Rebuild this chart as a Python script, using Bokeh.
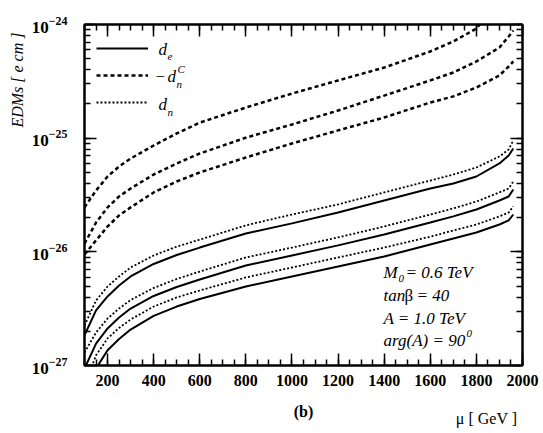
import math
from bokeh.plotting import figure
from bokeh.models import (Range1d, LinearAxis, LogAxis, LogTicker, SingleIntervalTicker,
                          FixedTicker, Label, Legend, LegendItem, CustomJSTickFormatter, Title)
from bokeh.embed import file_html
from bokeh.resources import INLINE

# ---------------- data ----------------
mu = [100, 150, 200, 250, 300, 400, 500, 600, 800, 1000, 1200, 1400, 1600, 1700, 1800, 1900, 1940, 1960]
mu_top = [100, 150, 200, 250, 300, 400, 500, 600, 800, 1000, 1200, 1400, 1600, 1700, 1800, 1815]

# -d_n^C (dashed)
dnc_1 = [2.46e-26, 3.46e-26, 4.60e-26, 5.63e-26, 6.62e-26, 8.62e-26, 1.10e-25, 1.37e-25,
         1.86e-25, 2.47e-25, 3.22e-25, 4.18e-25, 5.79e-25, 7.09e-25, 9.22e-25, 1.0e-24]
dnc_2 = [1.18e-26, 1.81e-26, 2.46e-26, 3.07e-26, 3.61e-26, 4.79e-26, 5.99e-26, 7.33e-26,
         1.01e-25, 1.32e-25, 1.75e-25, 2.37e-25, 3.22e-25, 3.78e-25, 4.73e-25, 6.28e-25,
         7.84e-25, 8.86e-25]
dnc_3 = [9.48e-27, 1.26e-26, 1.67e-26, 2.09e-26, 2.46e-26, 3.33e-26, 4.16e-26, 4.99e-26,
         6.76e-26, 8.98e-26, 1.17e-25, 1.52e-25, 2.06e-25, 2.33e-25, 2.79e-25, 3.56e-25,
         4.27e-25, 4.73e-25]
# d_e (solid)
de_1 = [1.84e-27, 3.05e-27, 4.05e-27, 5.06e-27, 6.07e-27, 7.82e-27, 9.38e-27, 1.09e-26,
        1.45e-26, 1.78e-26, 2.22e-26, 2.83e-26, 3.61e-26, 3.99e-26, 4.60e-26, 5.99e-26,
        7.04e-26, 8.11e-26]
de_2 = [9.41e-28, 1.56e-27, 2.12e-27, 2.64e-27, 3.17e-27, 4.09e-27, 4.91e-27, 5.71e-27,
        7.58e-27, 9.29e-27, 1.14e-26, 1.42e-26, 1.81e-26, 2.05e-26, 2.36e-26, 2.83e-26,
        3.07e-26, 3.54e-26]
de_3 = [4.92e-28, 9.41e-28, 1.36e-27, 1.71e-27, 2.07e-27, 2.73e-27, 3.30e-27, 3.85e-27,
        4.96e-27, 6.07e-27, 7.43e-27, 9.10e-27, 1.16e-26, 1.31e-26, 1.48e-26, 1.74e-26,
        1.89e-26, 2.13e-26]
# d_n (dotted)
dn_1 = [2.25e-27, 3.73e-27, 4.96e-27, 6.07e-27, 7.28e-27, 9.29e-27, 1.11e-26, 1.28e-26,
        1.71e-26, 2.13e-26, 2.61e-26, 3.33e-26, 4.24e-26, 4.79e-26, 5.52e-26, 6.90e-26,
        7.95e-26, 9.54e-26]
dn_2 = [1.30e-27, 1.95e-27, 2.59e-27, 3.17e-27, 3.77e-27, 4.81e-27, 5.77e-27, 6.71e-27,
        8.92e-27, 1.09e-26, 1.34e-26, 1.67e-26, 2.13e-26, 2.41e-26, 2.77e-26, 3.33e-26,
        3.61e-26, 4.16e-26]
dn_3 = [6.67e-28, 1.23e-27, 1.73e-27, 2.14e-27, 2.54e-27, 3.30e-27, 3.97e-27, 4.57e-27,
        5.95e-27, 7.28e-27, 8.92e-27, 1.09e-26, 1.36e-26, 1.54e-26, 1.74e-26, 2.05e-26,
        2.22e-26, 2.51e-26]

x_label_text = "\u03bc [ GeV ]"
y_label_text = "EDMs  [ e cm ]"
panel_tag = "(b)"

SERIF = "Liberation Serif"
INK = "black"

# ---------------- figure ----------------
W, H = 543, 433
FL, FT, FR, FB = 84, 24, 522, 365   # frame edges in page pixels
p = figure(width=W, height=H, output_backend="svg", toolbar_location=None,
           x_range=Range1d(100, 2000), y_range=Range1d(1e-27, 1e-24),
           y_axis_type="log",
           min_border_left=FL, min_border_right=W - FR,
           min_border_top=FT, min_border_bottom=H - FB)
p.xgrid.visible = False
p.ygrid.visible = False
p.outline_line_color = INK
p.outline_line_width = 2
p.background_fill_color = "white"
p.border_fill_color = "white"

blank = CustomJSTickFormatter(code="return '';")

def style_axis(ax, show_labels=False):
    ax.axis_line_width = 2
    ax.axis_line_color = INK
    ax.major_tick_line_color = INK
    ax.minor_tick_line_color = INK
    ax.major_tick_in = 12
    ax.major_tick_out = 0
    ax.minor_tick_in = 6
    ax.minor_tick_out = 0
    ax.major_tick_line_width = 1.5
    ax.minor_tick_line_width = 1.5
    ax.major_label_text_color = INK
    ax.axis_label_text_color = INK
    if not show_labels:
        ax.formatter = blank

xax = p.xaxis[0]
xax.ticker = SingleIntervalTicker(interval=200, num_minor_ticks=4)
style_axis(xax, True)
xax.major_label_text_font = SERIF
xax.major_label_text_font_style = "bold"
xax.major_label_text_font_size = "16px"
xax.major_label_standoff = 9
xax.axis_label = panel_tag
xax.axis_label_text_font = SERIF
xax.axis_label_text_font_style = "bold"
xax.axis_label_text_font_size = "16px"
xax.axis_label_standoff = 14

yax = p.yaxis[0]
yax.ticker = LogTicker(num_minor_ticks=10)
style_axis(yax, True)
yax.major_label_text_font = SERIF
yax.major_label_text_font_style = "bold"
yax.major_label_text_font_size = "17px"
yax.major_label_standoff = 17

top = LinearAxis(ticker=SingleIntervalTicker(interval=200, num_minor_ticks=4))
style_axis(top)
p.add_layout(top, "above")
right = LogAxis(ticker=LogTicker(num_minor_ticks=10))
style_axis(right)
p.add_layout(right, "right")

# second, tick-less axis below carrying the mu label on the same row as (b)
x2 = LinearAxis(ticker=FixedTicker(ticks=[1844]),
                major_label_overrides={1844: x_label_text})
x2.axis_line_color = None
x2.major_tick_line_color = None
x2.minor_tick_line_color = None
x2.major_label_text_font = SERIF
x2.major_label_text_font_size = "16px"
x2.major_label_text_color = INK
x2.major_label_standoff = -19
p.add_layout(x2, "below")

# y axis title
p.add_layout(Title(text=y_label_text, align="right", offset=4, standoff=6,
                   text_font=SERIF, text_font_style="italic", text_font_size="16px",
                   text_color=INK), "left")

# ---------------- curves ----------------
DASH = "4 3"
DOT = "2 2"
r_dash = p.line(mu_top, dnc_1, line_color=INK, line_width=2.5, line_dash=DASH)
p.line(mu, dnc_2, line_color=INK, line_width=2.5, line_dash=DASH)
p.line(mu, dnc_3, line_color=INK, line_width=2.5, line_dash=DASH)
r_solid = p.line(mu, de_1, line_color=INK, line_width=2)
p.line(mu, de_2, line_color=INK, line_width=2)
p.line(mu, de_3, line_color=INK, line_width=2)
r_dot = p.line(mu, dn_1, line_color=INK, line_width=1.8, line_dash=DOT)
p.line(mu, dn_2, line_color=INK, line_width=1.8, line_dash=DOT)
p.line(mu, dn_3, line_color=INK, line_width=1.8, line_dash=DOT)

legend = Legend(items=[LegendItem(label=" ", renderers=[r_solid]),
                       LegendItem(label=" ", renderers=[r_dash]),
                       LegendItem(label=" ", renderers=[r_dot])],
                location="top_left", margin=12, padding=0, spacing=3,
                glyph_width=52, glyph_height=24, label_height=24,
                border_line_color=None, background_fill_alpha=0)
p.add_layout(legend)

# ---------------- texts inside the frame ----------------
def lab(x, y, text, size="17px", style="italic", align="left", baseline="middle"):
    p.add_layout(Label(x=x - FL, y=FB - y, x_units="screen", y_units="screen",
                       text=text, text_font=SERIF, text_font_size=size,
                       text_font_style=style, text_align=align,
                       text_baseline=baseline, text_color=INK))

# legend texts
lab(158, 49, "d")
lab(167, 56, "e", size="11px")
lab(155, 76, "\u2212", style="normal")
lab(167, 76, "d")
lab(177, 68, "C", size="11px")
lab(176, 83, "n", size="11px")
lab(158, 104, "d")
lab(167, 111, "n", size="11px")

# parameter block
lab(383, 272, "M")
lab(398, 278, "0", size="11px")
lab(405, 272, "= 0.6 TeV")
lab(383, 295, "tan")
lab(404, 295, "\u03b2", style="normal")
lab(416, 295, "= 40")
lab(383, 318, "A = 1.0 TeV")
lab(383, 340, "arg(A) = 90")
lab(466, 333, "0", size="11px")

open("out.html", "w").write(file_html(p, INLINE))
